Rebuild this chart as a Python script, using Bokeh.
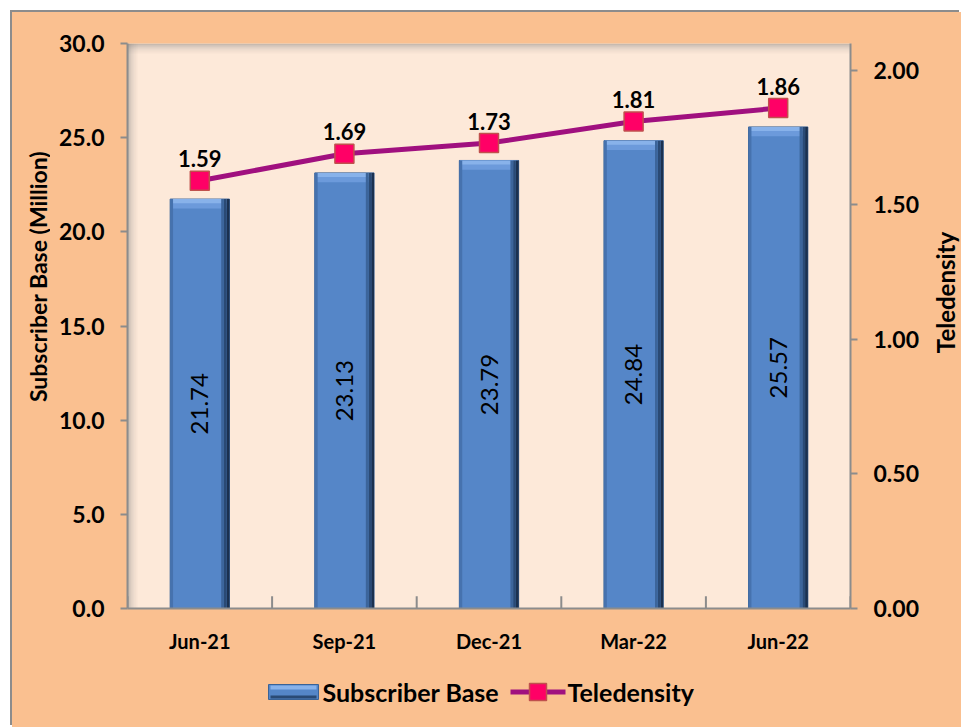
import math
from bokeh.plotting import figure
from bokeh.layouts import column, row
from bokeh.models import (ColumnDataSource, Range1d, LinearAxis, FixedTicker,
                          NumeralTickFormatter, BoxAnnotation)
from bokeh.transform import dodge
from bokeh.core.properties import value
from bokeh.embed import file_html
from bokeh.resources import INLINE

# ---- data ----
periods = ["Jun-21", "Sep-21", "Dec-21", "Mar-22", "Jun-22"]
subscriber_base = [21.74, 23.13, 23.79, 24.84, 25.57]
teledensity = [1.59, 1.69, 1.73, 1.81, 1.86]
left_ticks = [0, 5, 10, 15, 20, 25, 30]
right_ticks = [0, 0.5, 1.0, 1.5, 2.0]
left_title = "Subscriber Base (Million)"
right_title = "Teledensity"
series_names = ["Subscriber Base", "Teledensity"]

# ---- style ----
FONT = "Lato"
OUTER = "#FAC090"
INNER = "#FDE9D9"
GRAY = "#8C8C8C"
BAR = "#5586C8"
BAR_EDGE = "#3A6397"
LINE = "#A0107F"
MARK = "#FF0066"
MARK_EDGE = "#C0504D"
BAR_W = 0.41

# layout sizes (pixels)
EDGE = 12                       # white page strip + grey chart border
LEFT_W, MAIN_W, RIGHT_W = 38, 880, 31
B_TOP, B_BOT = 31, 60
TOP_H, LEG_H = B_TOP + 565 + B_BOT, 59
FULL_W = LEFT_W + MAIN_W + RIGHT_W


def blank(width, height, y_range, top=0, bottom=0):
    f = figure(width=width, height=height, x_range=Range1d(0, width),
               y_range=y_range, output_backend="svg",
               toolbar_location=None, x_axis_location=None,
               y_axis_location=None, min_border=0, min_border_top=top,
               min_border_bottom=bottom, title=None,
               background_fill_alpha=0, border_fill_color=OUTER,
               outline_line_color=None)
    f.grid.visible = False
    return f


src = ColumnDataSource(dict(
    period=periods,
    subs=subscriber_base,
    mid=[v / 2 for v in subscriber_base],
    cap1=[v - 0.22 for v in subscriber_base],
    cap2=[v - 0.50 for v in subscriber_base],
    tele=teledensity,
    subs_lbl=[f"{v:.2f}" for v in subscriber_base],
    tele_lbl=[f"{v:.2f}" for v in teledensity],
))

p = figure(x_range=periods, y_range=Range1d(0, 30),
           frame_width=723, frame_height=565, title=None,
           output_backend="svg", toolbar_location=None,
           min_border_left=77, min_border_right=80, min_border_top=B_TOP,
           min_border_bottom=B_BOT, background_fill_color=INNER,
           border_fill_color=OUTER, outline_line_color=None)
p.extra_y_ranges = {"tele": Range1d(0, 2.1)}
p.grid.visible = False

# inner shadow of plot area (top and left)
for k, a in enumerate([0.38, 0.26, 0.16, 0.09, 0.04]):
    p.add_layout(BoxAnnotation(top=30 - k * 0.106, bottom=30 - (k + 1) * 0.106,
                               fill_color="#6F6F6F", fill_alpha=a,
                               line_color=None, level="underlay"))
    p.add_layout(BoxAnnotation(left=k * 0.0138, right=(k + 1) * 0.0138,
                               fill_color="#6F6F6F", fill_alpha=a,
                               line_color=None, level="underlay"))

# bars
bars = p.vbar(x="period", top="subs", width=BAR_W, source=src,
              fill_color=BAR, line_color=BAR_EDGE, line_width=1)
p.vbar(x="period", top="cap2", bottom="subs", width=BAR_W - 0.01, source=src,
       fill_color="#6C9ADB", line_color=None)
p.vbar(x="period", top="subs", bottom="cap1", width=BAR_W - 0.01, source=src,
       fill_color="#88B2EA", line_color=None)
for off, w, col in [(0.0095, 0.019, "#1B3150"), (0.0285, 0.019, "#2A4A75"),
                    (0.0475, 0.019, "#3C659B")]:
    p.vbar(x=dodge("period", BAR_W / 2 - off, range=p.x_range), top="subs",
           width=w, source=src, fill_color=col, line_color=None)
p.vbar(x=dodge("period", -BAR_W / 2 + 0.01, range=p.x_range), top="subs",
       width=0.02, source=src, fill_color="#4672AE", line_color=None)

# bar value labels
p.text(x="period", y="mid", text="subs_lbl", source=src, angle=math.pi / 2,
       text_align="center", text_baseline="middle", text_font=value(FONT),
       text_font_size="24px", text_color="black")

# teledensity line
line = p.line(x="period", y="tele", source=src, y_range_name="tele",
              line_color=LINE, line_width=5)
sc = p.scatter(x="period", y="tele", source=src, y_range_name="tele",
               marker="square", size=19, fill_color=MARK,
               line_color=MARK_EDGE, line_width=1.5)
p.text(x="period", y="tele", text="tele_lbl", source=src, y_range_name="tele",
       text_align="center", text_baseline="alphabetic", y_offset=-22,
       text_font=value(FONT), text_font_style="bold", text_font_size="22px",
       text_color="black")

# x tick marks between categories
bounds = list(range(len(periods) + 1))
p.segment(x0=bounds, y0=[0] * len(bounds), x1=bounds, y1=[0.65] * len(bounds),
          line_color=GRAY, line_width=2)

# axes
ya = p.yaxis[0]
ya.ticker = FixedTicker(ticks=left_ticks)
ya.formatter = NumeralTickFormatter(format="0.0")
ra = LinearAxis(y_range_name="tele", ticker=FixedTicker(ticks=right_ticks),
                formatter=NumeralTickFormatter(format="0.00"))
p.add_layout(ra, "right")
for ax in (ya, ra):
    ax.major_tick_in = 0
    ax.major_tick_out = 7
    ax.minor_tick_in = 0
    ax.minor_tick_out = 0
    ax.axis_line_color = GRAY
    ax.axis_line_width = 2
    ax.major_tick_line_color = GRAY
    ax.major_tick_line_width = 2
    ax.major_label_text_font = FONT
    ax.major_label_text_font_style = "bold"
    ax.major_label_text_font_size = "23px"
    ax.major_label_text_color = "black"
    ax.major_label_standoff = 16

xa = p.xaxis[0]
xa.major_tick_in = 0
xa.major_tick_out = 0
xa.axis_line_color = GRAY
xa.axis_line_width = 2
xa.major_label_text_font = FONT
xa.major_label_text_font_style = "bold"
xa.major_label_text_font_size = "20px"
xa.major_label_text_color = "black"
xa.major_label_standoff = 20

# axis titles (side strips sharing the main y scale)
left_fig = blank(LEFT_W, TOP_H, p.y_range, B_TOP, B_BOT)
left_fig.text(x=[25], y=[17.63], text=[left_title], angle=math.pi / 2,
              text_align="center", text_baseline="middle",
              text_font=value(FONT), text_font_style="bold",
              text_font_size="23px", text_color="black")
right_fig = blank(RIGHT_W, TOP_H, p.y_range, B_TOP, B_BOT)
right_fig.text(x=[15], y=[16.78], text=[right_title], angle=math.pi / 2,
               text_align="center", text_baseline="middle",
               text_font=value(FONT), text_font_style="bold",
               text_font_size="24px", text_color="black")

# legend strip (pixel coordinates, y up)
leg_fig = blank(FULL_W, LEG_H, Range1d(0, LEG_H))
LX = -EDGE  # legend x positions are given in page pixels
leg_fig.quad(left=[268 + LX], right=[318 + LX], bottom=[28], top=[43],
             fill_color=BAR, line_color=BAR_EDGE, line_width=1)
leg_fig.quad(left=[270 + LX], right=[316 + LX], bottom=[38], top=[42],
             fill_color="#88B2EA", line_color=None)
leg_fig.quad(left=[270 + LX], right=[316 + LX], bottom=[29], top=[32],
             fill_color="#2A4A75", line_color=None)
leg_fig.segment(x0=[510 + LX], y0=[35.5], x1=[565 + LX], y1=[35.5],
                line_color=LINE, line_width=5)
leg_fig.scatter(x=[537.5 + LX], y=[35.5], marker="square", size=17,
                fill_color=MARK, line_color=MARK_EDGE, line_width=1.5)
leg_fig.text(x=[322 + LX, 567 + LX], y=[35.5, 35.5], text=series_names,
             text_align="left", text_baseline="middle",
             text_font=value(FONT), text_font_style="bold",
             text_font_size="25px", text_color="black")

layout = column(row(left_fig, p, right_fig, styles={"background-color": OUTER}),
                leg_fig, margin=(EDGE, 0, 0, EDGE),
                styles={"background-color": OUTER,
                        "box-shadow": f"-2px -2px 0 0 {GRAY}"})
open("out.html", "w").write(file_html(layout, INLINE))
